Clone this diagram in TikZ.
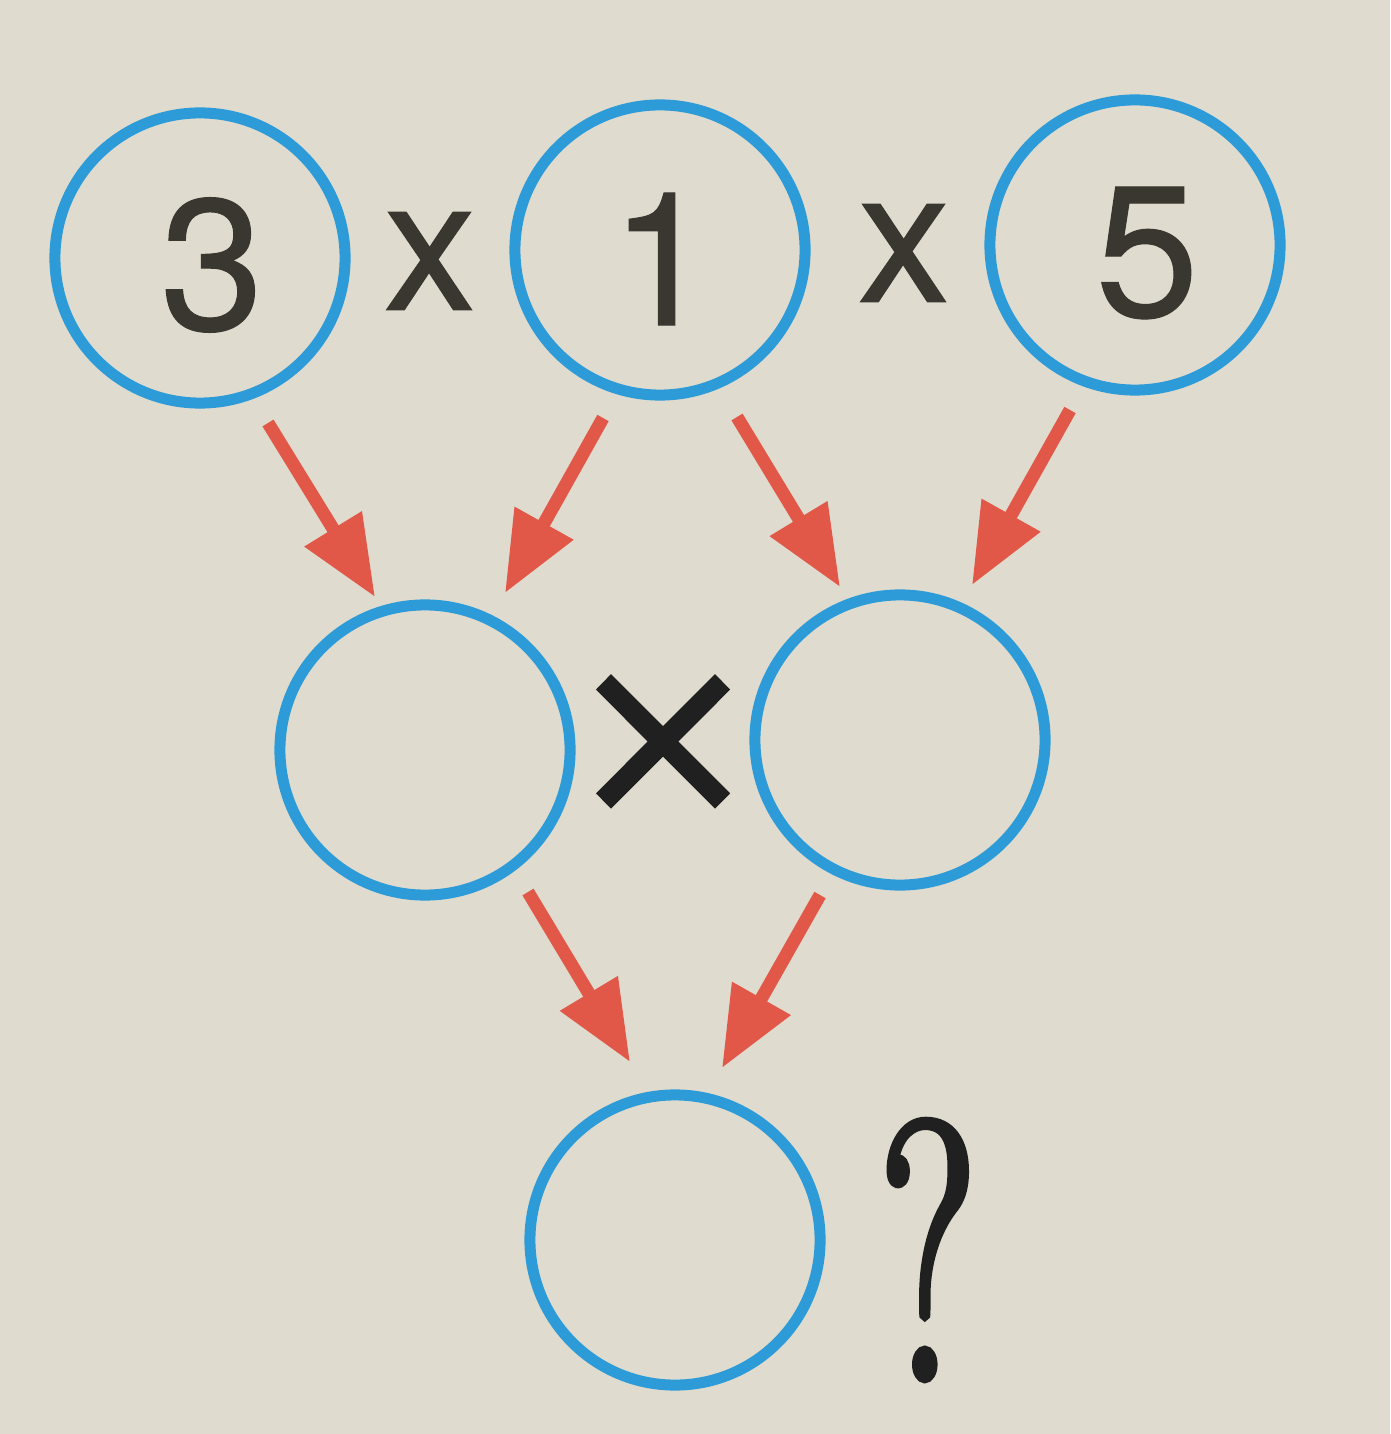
\documentclass[tikz,border=0pt]{standalone}
\usepackage{fontspec}
\newfontfamily\digitfont[FakeBold=0.6]{TeX Gyre Heros}
\newfontfamily\penfont[FakeBold=1]{DejaVu Sans}
\newfontfamily\askfont[FakeStretch=0.6,FakeBold=2]{Latin Modern Roman}
\usepackage{tikz}
\usetikzlibrary{arrows.meta}
\definecolor{paper}{RGB}{223,219,206}
\definecolor{ringblue}{RGB}{45,155,215}
\definecolor{arrowred}{RGB}{226,88,72}
\definecolor{ink}{RGB}{58,54,48}
\definecolor{pen}{RGB}{32,32,32}

\begin{document}
\begin{tikzpicture}[x=0.01cm,y=-0.01cm]
  \tikzstyle{ring}=[circle,draw=ringblue,line width=0.11cm,minimum size=2.9cm,
                    inner sep=0pt]
  \tikzstyle{digit}=[inner sep=2pt,text=ink,font=\digitfont\fontsize{53}{53}\selectfont]
  \tikzstyle{handmark}=[inner sep=4pt,text=pen]
  \tikzstyle{pointer}=[color=arrowred,line width=0.13cm,
                       -{Triangle[length=0.8cm,width=0.64cm]}]

  \fill[paper] (0,0) rectangle (1390,1434);
  \useasboundingbox (0,0) rectangle (1390,1434);

  % top row
  \node[ring]  (c3) at (200,258)  {};
  \node[ring]  (c1) at (660,250)  {};
  \node[ring]  (c5) at (1135,245) {};
  \node[digit] (d3) at (212,265)  {3};
  \node[digit] (d1) at (662,259)  {1};
  \node[digit] (d5) at (1147,253) {5};
  \node[digit] (x1) at (430,261)  {x};
  \node[digit] (x2) at (904,253)  {x};

  % middle row and result
  \node[ring]  (cl)  at (425,750)  {};
  \node[ring]  (cr)  at (900,740)  {};
  \node[ring]  (cres) at (675,1240) {};
  \node[handmark,font=\penfont\fontsize{66}{66}\selectfont]
               (mul) at (663,745) {×};
  \node[handmark,font=\askfont\fontsize{105}{105}\selectfont]
               (ask) at (928,1250) {?};

  % arrow ends
  \coordinate (s1) at (268,423);  \coordinate (e1) at (375,597);
  \coordinate (s2) at (603,418);  \coordinate (e2) at (505,593);
  \coordinate (s3) at (737,417);  \coordinate (e3) at (840,587);
  \coordinate (s4) at (1070,410); \coordinate (e4) at (972,585);
  \coordinate (s5) at (528,892);  \coordinate (e5) at (630,1062);
  \coordinate (s6) at (820,895);  \coordinate (e6) at (722,1068);

  \path (s1) edge[pointer] (e1)
        (s2) edge[pointer] (e2)
        (s3) edge[pointer] (e3)
        (s4) edge[pointer] (e4)
        (s5) edge[pointer] (e5)
        (s6) edge[pointer] (e6);
\end{tikzpicture}
\end{document}
